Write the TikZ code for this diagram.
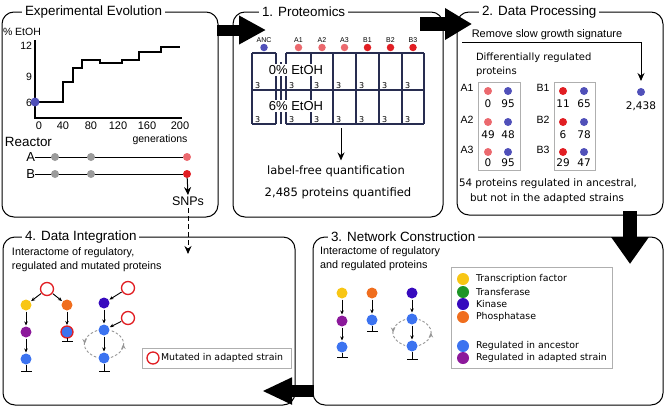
\documentclass[tikz,border=0pt]{standalone}
\usepackage{fontspec}
\setmainfont{Liberation Sans}
\newfontfamily\dvs{DejaVu Sans}
\usetikzlibrary{arrows.meta,decorations.markings}
\newcommand\fsz[1]{\fontsize{#1}{#1}\selectfont}
\definecolor{ancblue}{RGB}{80,80,185}
\definecolor{lred}{RGB}{235,105,110}
\definecolor{dred}{RGB}{225,30,35}
\definecolor{dotgray}{RGB}{155,155,155}
\definecolor{tfyellow}{RGB}{248,198,20}
\definecolor{trgreen}{RGB}{30,150,40}
\definecolor{kinblue}{RGB}{55,10,190}
\definecolor{phorange}{RGB}{240,110,30}
\definecolor{regblue}{RGB}{60,115,240}
\definecolor{regpurple}{RGB}{140,25,155}
\definecolor{boxgray}{RGB}{175,175,175}
\definecolor{loopgray}{RGB}{150,150,150}
\definecolor{gridnavy}{RGB}{40,45,80}
\begin{document}
\begin{tikzpicture}[x=1pt,y=-1pt,
  every node/.style={inner sep=0pt, outer sep=0pt},
  panel/.style={draw, line width=1pt, rounded corners=12pt, anchor=north west},
  ptitle/.style={fill=white, inner xsep=3pt, inner ysep=1pt, anchor=west, font=\fsz{13.4}},
  dot/.style={circle, fill=#1, minimum size=8pt},
  net/.style={circle, fill=#1, minimum size=11pt},
  mut/.style={circle, draw=dred, fill=white, line width=1.3pt, minimum size=13pt},
  gridl/.style={draw=gridnavy, line width=1.1pt},
  gbox/.style={draw=boxgray, line width=1pt, anchor=north west},
  edge/.style={-{Stealth[length=4pt,width=3.5pt]}, line width=0.9pt, shorten >=1pt, shorten <=1pt},
  inhib/.style={-{Bar[width=11pt,line width=1pt]}, line width=0.9pt},
  loopl/.style={draw=loopgray, dash pattern=on 2.5pt off 2pt, line width=0.9pt, shorten >=1.5pt, shorten <=1.5pt,
     postaction={decorate}, decoration={markings, mark=at position 0.5 with {\arrow[solid]{Stealth[length=5pt,width=4.5pt]}}}},
  thin/.style={-{Stealth[length=8pt,width=7pt]}, line width=1pt},
  three/.style={anchor=south west, font=\dvs\fsz{8}},
  cl/.style={font=\fsz{7}},
  num/.style={font=\dvs\fsz{10.5}},
  leg/.style={anchor=west, font=\dvs\fsz{9.4}}
]
\useasboundingbox (0,0) rectangle (666,407);

% ---------------- panels ----------------
\node[panel, minimum width=216pt, minimum height=205pt] (ee) at (2,12) {};
\node[panel, minimum width=210pt, minimum height=205pt] (p1) at (233,12) {};
\node[panel, minimum width=206pt, minimum height=203pt] (p2) at (457,12) {};
\node[panel, minimum width=292pt, minimum height=168pt] (p4) at (3,237) {};
\node[panel, minimum width=350pt, minimum height=168pt] (p3) at (313,237) {};
\node[ptitle] (tee) at (22,12) {Experimental Evolution};
\node[ptitle] (tp1) at (259,12) {1. Proteomics};
\node[ptitle] (tp2) at (479,12) {2. Data Processing};
\node[ptitle] (tp4) at (22,237) {4. Data Integration};
\node[ptitle] (tp3) at (328,237) {3. Network Construction};

% ---------------- Experimental evolution ----------------
\node[anchor=west, font=\fsz{10.5}] (etoh) at (3,32) {\% EtOH};
\draw[line width=1.1pt] (35,40) -- (35,118) -- (182,118);
\node[anchor=east, font=\fsz{10.5}] (y12) at (32,46) {12};
\node[anchor=east, font=\fsz{10.5}] (y9) at (32,77) {9};
\node[anchor=east, font=\fsz{10.5}] (y6) at (32,103) {6};
\foreach \xv/\lab in {39/0,63/40,91/80,118/120,147/160,180/200}
  \node[font=\fsz{11}] (x\lab) at (\xv,126) {\lab};
\node[font=\fsz{10.5}] (gen) at (160,140) {generations};
\draw[line width=1.3pt] (35,102) -- (63,102) -- (63,82) -- (73,82) -- (73,68) -- (82,68) -- (82,60)
  -- (100,60) -- (100,63) -- (122,63) -- (122,60) -- (139,60) -- (139,52) -- (161,52) -- (161,47) -- (180,47);
\node[dot=ancblue, minimum size=9pt] (d0) at (35,102) {};
\node[anchor=west, font=\fsz{13.4}] (reactor) at (5,142) {Reactor};
\node[anchor=east, font=\fsz{13}] (la) at (35,157) {A};
\node[anchor=east, font=\fsz{13}] (lb) at (35,174) {B};
\node[dot=lred] (ra) at (187,157) {};
\node[dot=dred] (rb) at (187,174) {};
\draw[line width=1pt] (la) -- (ra);
\draw[line width=1pt] (lb) -- (rb);
\foreach \xv in {55,91} {
  \node[dot=dotgray] at (\xv,157) {};
  \node[dot=dotgray] at (\xv,174) {};
}
\node[font=\fsz{12.5}] (snps) at (188,201) {SNPs};
\draw[thin] (rb) -- ([yshift=1.5pt]snps.north);
\coordinate (snpend) at (188,254);
\draw[line width=1pt, dash pattern=on 5pt off 3pt, -{Stealth[length=8pt,width=7pt]}] ([yshift=-3pt]snps.south) -- (snpend);

% ---------------- Proteomics ----------------
\foreach \xa/\xb in {252/276,286/424} {
  \draw[gridl] (\xa,53) -- (\xb,53);
  \draw[gridl] (\xa,124) -- (\xb,124);
}
\draw[gridl] (252,90) -- (424,90);
\foreach \xv in {252,276,286,311,333,356,379,402,424}
  \draw[gridl] (\xv,53) -- (\xv,124);
\draw[gridl] (281,62) -- (281,124);
\node[fill=white, inner xsep=1pt, inner ysep=1pt, font=\fsz{13}] (e0) at (296,70) {0\% EtOH};
\node[fill=white, inner xsep=1pt, inner ysep=1pt, font=\fsz{13}] (e6) at (296,106) {6\% EtOH};
\foreach \xv in {252,286,311,333,356,379,402} {
  \node[three] at (\xv+3,88.5) {3};
  \node[three] at (\xv+3,122.5) {3};
}
\foreach \xv/\lab/\col in {264/ANC/ancblue,298.5/A1/lred,322/A2/lred,344.5/A3/lred,367.5/B1/dred,390.5/B2/dred,413/B3/dred} {
  \node[cl] (c\lab) at (\xv,40) {\lab};
  \node[dot=\col, minimum size=7.5pt] (cd\lab) at (\xv,47.5) {};
}
\node[font=\dvs\fsz{11.5}] (lfq) at (336,171) {label-free quantification};
\node[font=\dvs\fsz{11.6}] (q2485) at (338,193) {2,485 proteins quantified};
\coordinate (gridbot) at (341,128);
\draw[thin] (gridbot) -- ([yshift=5pt]lfq.north -| gridbot);

% ---------------- Data processing ----------------
\node[font=\fsz{11}] (rsg) at (547,35) {Remove slow growth signature};
\coordinate (rsl) at (462,42);
\node[dot=ancblue] (d2438) at (641,92) {};
\draw[thin] (rsl) -| ([yshift=7pt]d2438.north);
\node[num] (n2438) at (641,106) {2,438};
\node[anchor=west, font=\dvs\fsz{10}] (dr1) at (476,58) {Differentially regulated};
\node[anchor=west, font=\dvs\fsz{10}] (dr2) at (476,72) {proteins};
\node[gbox, minimum width=42pt, minimum height=88pt] (boxA) at (478,82) {};
\node[gbox, minimum width=41pt, minimum height=88pt] (boxB) at (554,82) {};
\foreach \yl/\yd/\yn/\i/\na/\nb/\nc/\nd in {88/91/104/1/0/95/11/65, 120/122/135/2/49/48/6/78, 150/152/163/3/0/95/29/47} {
  \node[font=\fsz{10.5}] (A\i) at (467,\yl) {A\i};
  \node[font=\fsz{10.5}] (B\i) at (543,\yl) {B\i};
  \node[dot=lred] at (488,\yd) {};
  \node[dot=ancblue] at (508,\yd) {};
  \node[dot=dred] at (563,\yd) {};
  \node[dot=ancblue] at (584,\yd) {};
  \node[num] at (488,\yn) {\na};
  \node[num] at (508,\yn) {\nb};
  \node[num] at (563,\yn) {\nc};
  \node[num] at (584,\yn) {\nd};
}
\node[anchor=west, font=\dvs\fsz{10.3}] (s54a) at (459,184) {54 proteins regulated in ancestral,};
\node[anchor=west, font=\dvs\fsz{10.3}] (s54b) at (470,199) {but not in the adapted strains};

% ---------------- Data integration ----------------
\node[anchor=west, font=\fsz{10.8}] (i4a) at (12,253) {Interactome of regulatory,};
\node[anchor=west, font=\fsz{10.8}] (i4b) at (12,267) {regulated and mutated proteins};
\node[mut] (m1) at (47,289) {};
\node[net=tfyellow] (y1) at (26,305) {};
\node[net=phorange] (o1) at (67,305) {};
\node[net=regpurple] (pu1) at (26,332) {};
\node[net=regblue] (b1) at (26,359) {};
\node[circle, fill=regblue, draw=dred, line width=1.3pt, minimum size=12pt] (rb1) at (67,332) {};
\node[net=kinblue] (k2) at (104,303) {};
\node[mut] (m2) at (128,288) {};
\node[net=regblue] (b2) at (104,330) {};
\node[mut] (m3) at (128,318) {};
\node[net=regblue] (b3) at (104,358) {};
\draw[edge] (m1) -- (y1);
\draw[edge] (m1) -- (o1);
\draw[edge] (y1) -- (pu1);
\draw[edge] (pu1) -- (b1);
\draw[edge] (o1) -- (rb1);
\draw[edge] (m2) -- (k2);
\draw[edge] (k2) -- (b2);
\draw[edge] (m3) -- (b2);
\draw[edge] (b2) -- (b3);
\draw[inhib] (b1) -- ++(0,13);
\draw[inhib] (rb1) -- ++(0,10);
\draw[inhib] (b3) -- ++(0,14);
\draw[loopl] (b2.west) to[out=200,in=160,looseness=1.8] (b3.west);
\draw[loopl] (b3.east) to[out=20,in=-20,looseness=1.8] (b2.east);
\node[gbox, minimum width=149pt, minimum height=20pt] (leg4) at (142,348) {};
\node[mut, minimum size=12pt] (legm) at (153,358) {};
\node[leg] (legmt) at (161,358) {Mutated in adapted strain};

% ---------------- Network construction ----------------
\node[anchor=west, font=\fsz{10.8}] (i3a) at (320,252) {Interactome of regulatory};
\node[anchor=west, font=\fsz{10.8}] (i3b) at (320,266) {and regulated proteins};
\node[net=tfyellow] (y3) at (342,293) {};
\node[net=regpurple] (pu3) at (342,321) {};
\node[net=regblue] (b4) at (342,347) {};
\node[net=phorange] (o3) at (372,293) {};
\node[net=regblue] (b5) at (372,320) {};
\node[net=kinblue] (k3) at (412,293) {};
\node[net=regblue] (b6) at (412,319) {};
\node[net=regblue] (b7) at (412,346) {};
\draw[edge] (y3) -- (pu3);
\draw[edge] (pu3) -- (b4);
\draw[edge] (o3) -- (b5);
\draw[edge] (k3) -- (b6);
\draw[edge] (b6) -- (b7);
\draw[inhib] (b4) -- ++(0,11);
\draw[inhib] (b5) -- ++(0,12);
\draw[inhib] (b7) -- ++(0,14);
\draw[loopl] (b6.west) to[out=200,in=160,looseness=1.8] (b7.west);
\draw[loopl] (b7.east) to[out=20,in=-20,looseness=1.8] (b6.east);
\node[gbox, minimum width=161pt, minimum height=101pt] (leg3) at (451,267) {};
\foreach \yv/\col/\lab in {279/tfyellow/Transcription factor, 292/trgreen/Transferase, 304/kinblue/Kinase, 317/phorange/Phosphatase, 346/regblue/Regulated in ancestor, 358/regpurple/Regulated in adapted strain} {
  \node[dot=\col, minimum size=12pt] at (463,\yv) {};
  \node[leg] at (476,\yv) {\lab};
}

% ---------------- big arrows ----------------
\coordinate (a1s) at (217,30);
\coordinate (a1e) at (266,30);
\coordinate (a2s) at (420,24);
\coordinate (a2e) at (472,24);
\coordinate (a3s) at (630,211);
\coordinate (a3e) at (630,264);
\coordinate (a4s) at (314,391);
\coordinate (a4e) at (262,391);
\draw[line width=11pt, -{Triangle[length=27pt,width=27pt]}] (a1s) -- (a1e);
\draw[line width=14pt, -{Triangle[length=27pt,width=30pt]}] (a2s) -- (a2e);
\draw[line width=14pt, -{Triangle[length=27pt,width=36pt]}] (a3s) -- (a3e);
\draw[line width=12pt, -{Triangle[length=30pt,width=25pt]}] (a4s) -- (a4e);
\end{tikzpicture}
\end{document}
